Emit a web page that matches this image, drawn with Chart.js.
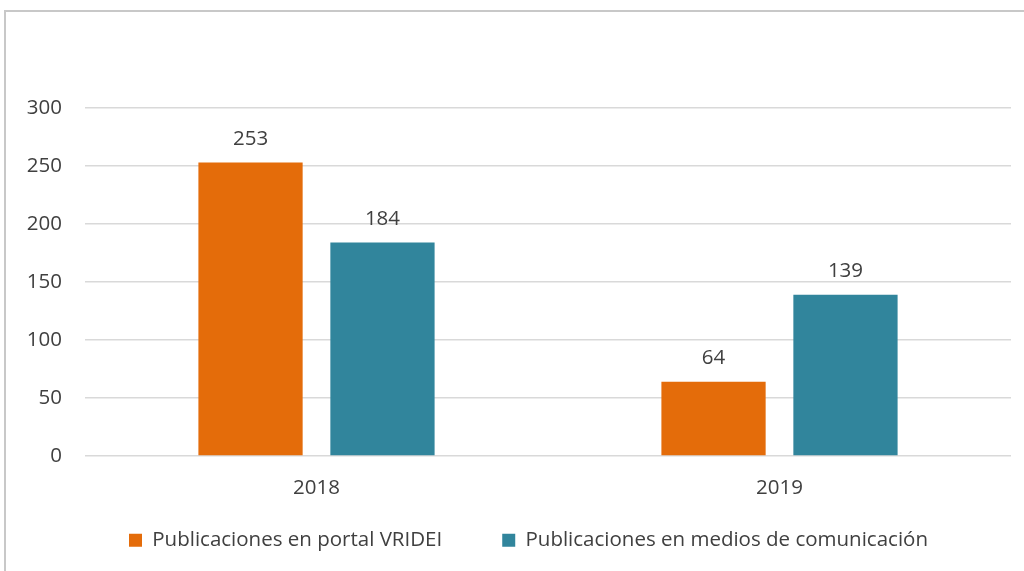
<!DOCTYPE html>
<html>
<head>
<meta charset="utf-8">
<script src="https://cdn.jsdelivr.net/npm/chart.js@4/dist/chart.umd.min.js"></script>
<style>
  html, body { margin: 0; padding: 0; background: #fff; }
  #wrap { position: relative; width: 1024px; height: 571px; overflow: hidden; }
  #frame { position: absolute; left: 4px; top: 10px; width: 1030px; height: 600px;
           border-left: 2px solid #c8c8c8; border-top: 2px solid #c8c8c8; }
  canvas { position: absolute; left: 0; top: 0; }
</style>
</head>
<body>
<div id="wrap">
  <div id="frame"></div>
  <canvas id="chart" width="1024" height="571"></canvas>
</div>
<script>
const years = ['2018', '2019'];
const portalVridei = [253, 64];
const mediosComunicacion = [184, 139];
const yTicks = [0, 50, 100, 150, 200, 250, 300];

const textColor = '#404040';
const fontFamily = '"Open Sans", "Noto Sans", sans-serif';
const fontSize = 20.5;

// etiquetas de valor encima de las barras
const valueLabels = {
    id: 'valueLabels',
    afterDatasetsDraw(chart) {
        const ctx = chart.ctx;
        ctx.save();
        ctx.font = fontSize + 'px ' + fontFamily;
        ctx.fillStyle = textColor;
        ctx.textAlign = 'center';
        ctx.textBaseline = 'bottom';
        chart.data.datasets.forEach((ds, i) => {
            chart.getDatasetMeta(i).data.forEach((bar, j) => {
                ctx.fillText(ds.data[j], bar.x, bar.y - 13);
            });
        });
        ctx.restore();
    }
};

// la leyenda: altura fija y un pequeño desplazamiento (el padding también separa los elementos)
const legendPlacement = {
    id: 'legendPlacement',
    beforeInit(chart) {
        const legend = chart.legend;
        const fit = legend.fit;
        legend.fit = function () {
            fit.call(this);
            this.height = 59;
        };
    },
    afterLayout(chart) {
        const l = chart.legend;
        l.left += 23;
        l.right += 23;
        l.top -= 42;
        l.height = l.bottom - l.top;
    }
};

const ctx = document.getElementById('chart').getContext('2d');
new Chart(ctx, {
    type: 'bar',
    data: {
        labels: years,
        datasets: [{
            label: 'Publicaciones en portal VRIDEI',
            data: portalVridei,
            backgroundColor: '#E46C0A'
        }, {
            label: 'Publicaciones en medios de comunicación',
            data: mediosComunicacion,
            backgroundColor: '#31859C'
        }]
    },
    options: {
        responsive: false,
        animation: false,
        layout: { padding: { top: 108, right: 13, left: 0, bottom: 0 } },
        categoryPercentage: 0.57,
        barPercentage: 0.79,
        scales: {
            x: {
                grid: { display: false },
                border: { display: false },
                ticks: { color: textColor, font: { family: fontFamily, size: fontSize }, padding: 12 },
                afterFit(scale) { scale.height = 56; }
            },
            y: {
                min: 0,
                max: 300,
                afterBuildTicks(scale) { scale.ticks = yTicks.map(v => ({ value: v })); },
                grid: { color: '#d9d9d9', lineWidth: 1.5, drawTicks: false },
                border: { display: false },
                ticks: { color: textColor, font: { family: fontFamily, size: fontSize }, padding: 23 },
                afterFit(scale) { scale.width = 85; }
            }
        },
        plugins: {
            legend: {
                position: 'bottom',
                labels: {
                    color: textColor,
                    font: { family: fontFamily, size: fontSize },
                    boxWidth: 13,
                    boxHeight: 13,
                    padding: 60
                }
            },
            tooltip: { enabled: false }
        }
    },
    plugins: [valueLabels, legendPlacement]
});
</script>
</body>
</html>
